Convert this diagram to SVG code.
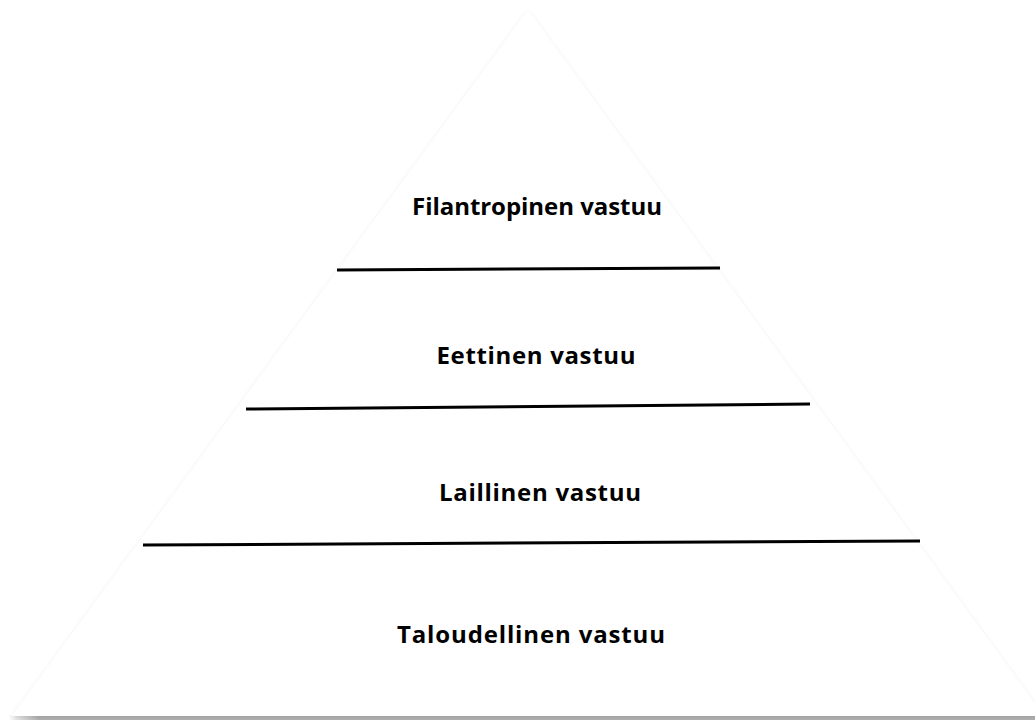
<svg xmlns="http://www.w3.org/2000/svg" width="1035" height="720" viewBox="0 0 1035 720">
  <defs>
    <filter id="softShadow" x="-5%" y="-5%" width="110%" height="115%">
      <feGaussianBlur in="SourceAlpha" stdDeviation="2.5" result="blur"/>
      <feOffset dx="0" dy="2" result="off"/>
      <feComponentTransfer in="off" result="faint">
        <feFuncA type="linear" slope="0.12"/>
      </feComponentTransfer>
      <feMerge>
        <feMergeNode in="faint"/>
        <feMergeNode in="SourceGraphic"/>
      </feMerge>
    </filter>
    <linearGradient id="baseShade" x1="0" y1="0" x2="1" y2="0">
      <stop offset="0" stop-color="#b3b3b3" stop-opacity="0"/>
      <stop offset="0.03" stop-color="#b3b3b3" stop-opacity="1"/>
      <stop offset="1" stop-color="#b3b3b3" stop-opacity="1"/>
    </linearGradient>
  </defs>
  <style>
    .tier-line { stroke: #000; stroke-width: 3; fill: none; }
    .tier-label { font-family: "Open Sans", "Liberation Sans", sans-serif; font-weight: bold; font-size: 24px; fill: #000; text-anchor: middle; }
  </style>

  <rect width="1035" height="720" fill="#fff"/>

  <!-- pyramid body -->
  <g id="pyramid">
    <rect x="8" y="715" width="1030" height="6" fill="url(#baseShade)"/>
    <polygon points="528,10 12,716 1044,716" fill="#fff" filter="url(#softShadow)"/>
  </g>

  <!-- dividing lines between tiers -->
  <g id="connectors">
    <line class="tier-line" x1="337" y1="270" x2="720" y2="268"/>
    <line class="tier-line" x1="246" y1="409" x2="810" y2="404"/>
    <line class="tier-line" x1="143" y1="545" x2="920" y2="541"/>
  </g>

  <g id="tier-philanthropic">
    <text class="tier-label" x="537" y="215" textLength="250">Filantropinen vastuu</text>
  </g>
  <g id="tier-ethical">
    <text class="tier-label" x="536" y="364" textLength="199">Eettinen vastuu</text>
  </g>
  <g id="tier-legal">
    <text class="tier-label" x="540" y="501" textLength="202">Laillinen vastuu</text>
  </g>
  <g id="tier-economic">
    <text class="tier-label" x="531" y="643" textLength="268">Taloudellinen vastuu</text>
  </g>
</svg>
